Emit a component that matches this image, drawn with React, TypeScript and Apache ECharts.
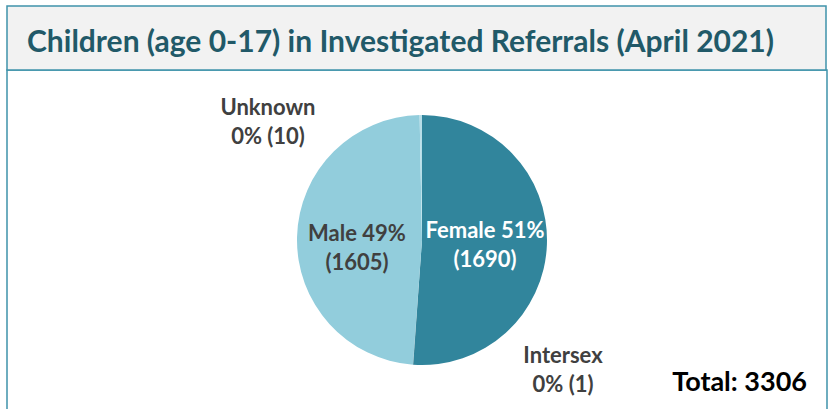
import React, { useEffect, useRef } from "react";
import * as echarts from "echarts";

const titleText = "Children (age 0-17) in Investigated Referrals (April 2021)";
const categories = ["Female", "Intersex", "Male", "Unknown"];
const values = [1690, 1, 1605, 10];
const sliceColors = ["#31859C", "#215968", "#92CDDC", "#B7DEE8"];
const totalValue = 3306;

const FONT = "Lato, 'Open Sans', sans-serif";
const CX = 422;
const CY = 240;
const R = 125;

export default function App() {
  const ref = useRef<HTMLDivElement>(null);
  useEffect(() => {
    if (!ref.current) return;
    const chart = echarts.init(ref.current, null, { renderer: "svg" });
    const data = categories.map((name, i) => {
      const inside = name === "Female" || name === "Male";
      return {
        name,
        value: values[i],
        itemStyle: { color: sliceColors[i] },
        label: inside
          ? {
              show: true,
              position: "inside",
              formatter: "{b} {d}%\n({c})",
              color: name === "Female" ? "#FFFFFF" : "#404040",
            }
          : {
              show: true,
              position: "outside",
              formatter: "{b}\n{d}% ({c})",
              color: "#404040",
            },
        labelLine: { show: false },
      };
    });
    chart.setOption({
      animation: false,
      graphic: [
        {
          type: "rect",
          shape: { x: 7, y: 70, width: 820, height: 360 },
          style: { fill: "#FFFFFF", stroke: "#3F93AA", lineWidth: 1.5 },
          z: 0,
        },
        {
          type: "rect",
          shape: { x: 7, y: 6, width: 819, height: 64 },
          style: { fill: "#F2F2F2", stroke: "#3F93AA", lineWidth: 1.5 },
          z: 1,
        },
        {
          type: "text",
          x: 27,
          y: 40,
          style: {
            text: titleText,
            font: `bold 30px ${FONT}`,
            fill: "#215968",
            verticalAlign: "middle",
          },
          z: 2,
        },
        {
          type: "text",
          x: 807,
          y: 380,
          style: {
            text: `Total: ${totalValue}`,
            font: `bold 27px ${FONT}`,
            fill: "#000000",
            align: "right",
            verticalAlign: "middle",
          },
          z: 2,
        },
      ],
      series: [
        {
          type: "pie",
          center: [CX, CY],
          radius: [0, R],
          startAngle: 90,
          clockwise: true,
          avoidLabelOverlap: false,
          minShowLabelAngle: 0,
          percentPrecision: 0,
          itemStyle: { borderWidth: 0 },
          emphasis: { disabled: true },
          label: {
            fontFamily: FONT,
            fontWeight: "bold",
            fontSize: 22,
            lineHeight: 29,
            align: "center",
          },
          labelLine: { show: false },
          labelLayout: (p: any) => {
            const name = categories[p.dataIndex];
            if (name === "Unknown") return { x: CX - 154, y: CY - 119, align: "center", verticalAlign: "middle" };
            if (name === "Intersex") return { x: CX + 141, y: CY + 129, align: "center", verticalAlign: "middle" };
            if (name === "Female") return { x: CX + 63, y: CY + 4, align: "center", verticalAlign: "middle" };
            return { x: CX - 65, y: CY + 7, align: "center", verticalAlign: "middle" };
          },
          data,
        },
      ],
    });
    return () => chart.dispose();
  }, []);
  return (
    <div
      ref={ref}
      style={{ position: "fixed", left: 0, top: 0, width: 830, height: 409, background: "#FFFFFF" }}
    />
  );
}
